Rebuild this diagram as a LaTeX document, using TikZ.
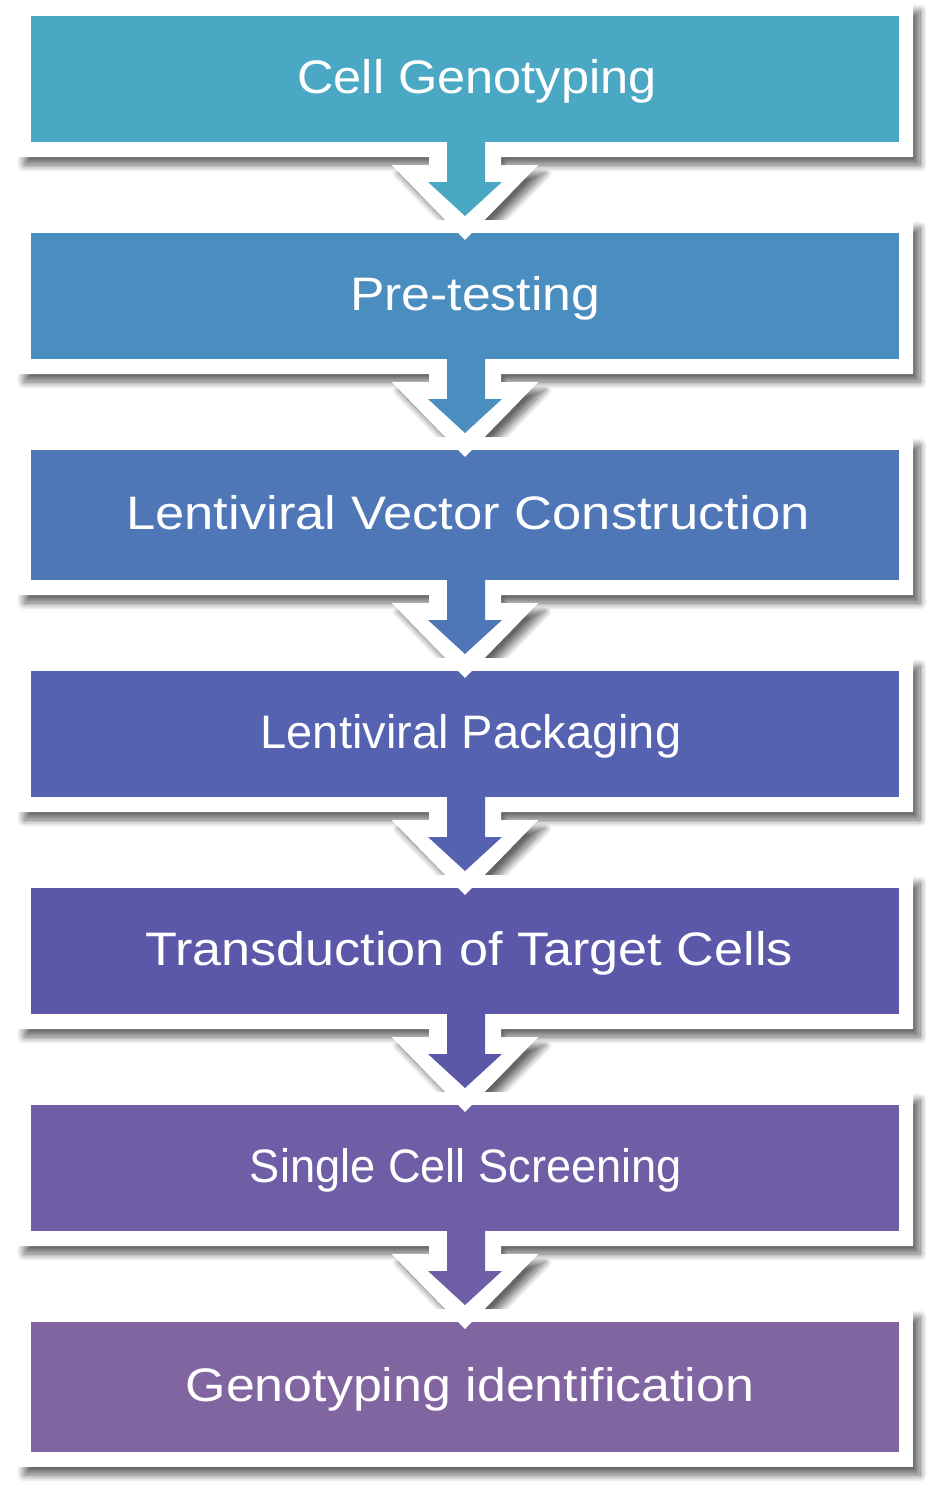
\documentclass[tikz,border=0pt]{standalone}
\usepackage{fontspec}
\setmainfont{Liberation Sans}
\usetikzlibrary{shadows.blur}
\definecolor{cA}{HTML}{4BA8C5}
\definecolor{cB}{HTML}{4A8DBF}
\definecolor{cC}{HTML}{4F76B7}
\definecolor{cD}{HTML}{5562AF}
\definecolor{cE}{HTML}{5B58A9}
\definecolor{cF}{HTML}{6E5EA6}
\definecolor{cG}{HTML}{8065A1}
\tikzset{
  frameshape/.style={fill=white, draw=none, blur shadow={shadow xshift=7pt, shadow yshift=-8pt, shadow blur radius=7pt, shadow opacity=60, shadow blur steps=12}},
  stepbox/.style={draw=none, minimum width=868pt, inner sep=0pt},
  steplabel/.style={text=white, font=\fontsize{47}{50}\selectfont, anchor=base, inner sep=0pt},
}
\begin{document}
\begin{tikzpicture}[x=1pt,y=-1pt]
\useasboundingbox (0,0) rectangle (929,1492);
% top, bottom, colour, label x, label x-scale, text
\def\boxlist{16/142/cA/477/1.075/Cell Genotyping,233/359/cB/475/1.10/Pre-testing,450/580/cC/468/1.118/Lentiviral Vector Construction,671/797/cD/471/1.0/Lentiviral Packaging,888/1014/cE/469/1.11/Transduction of Target Cells,1105/1231/cF/466/0.962/Single Cell Screening,1322/1452/cG/470/1.105/Genotyping identification}
% white frames with arrow outlines and shadows
\foreach \t/\b/\c/\lx/\sx/\txt [count=\i] in \boxlist {
  \ifnum\i<7
    \path[frameshape] (17,\t-13) -- (913,\t-13) -- (913,\b+15) -- (501,\b+15) -- (501,\b+23) -- (538,\b+23) -- (465,\b+98) -- (392,\b+23) -- (429,\b+23) -- (429,\b+15) -- (17,\b+15) -- cycle;
  \else
    \path[frameshape] (17,\t-13) rectangle (913,\b+15);
  \fi
}
% coloured boxes and labels
\foreach \t/\b/\c/\lx/\sx/\txt [count=\i] in \boxlist {
  \node[stepbox, fill=\c, minimum height={\b-\t}, anchor=north west] (box\i) at (31,\t) {};
  \node[steplabel] (lab\i) at (\lx,{(\t+\b)/2+14}) {\scalebox{\sx}[1]{\txt}};
}
% white tips and coloured arrows
\foreach \t/\b/\c/\lx/\sx/\txt [count=\i] in \boxlist {
  \ifnum\i<7
    \fill[white] (392,\b+23) -- (538,\b+23) -- (465,\b+98) -- cycle;
    \fill[\c] (447,\b) -- (485,\b) -- (485,\b+40) -- (502,\b+40) -- (465,\b+74) -- (428,\b+40) -- (447,\b+40) -- cycle;
  \fi
}
\end{tikzpicture}
\end{document}
